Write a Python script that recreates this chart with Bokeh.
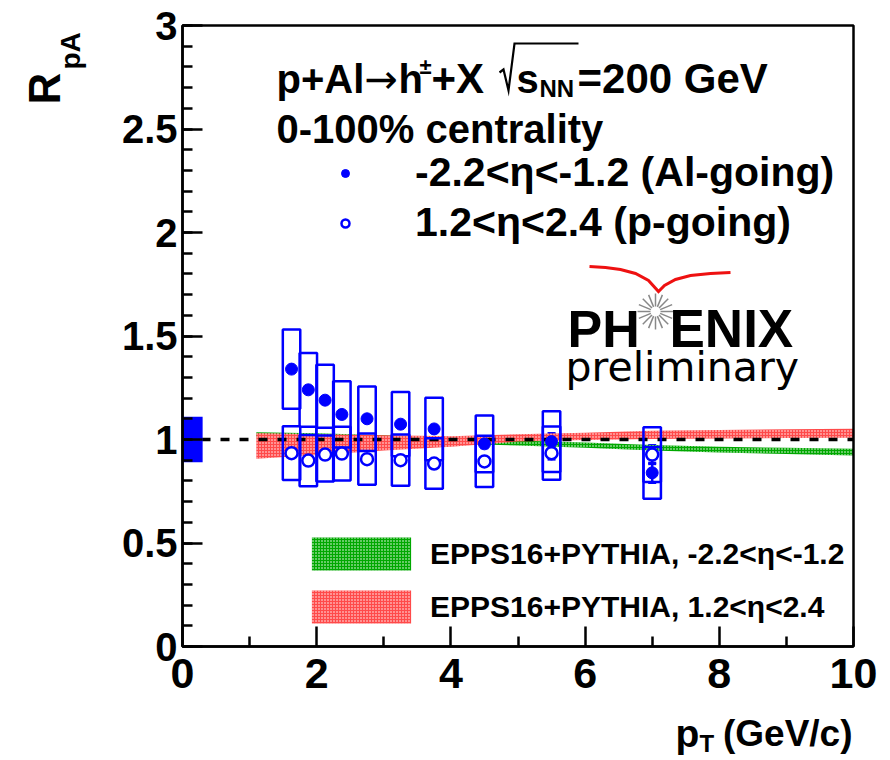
import math
from bokeh.plotting import figure
from bokeh.models import (ColumnDataSource, Label, Legend, LegendItem, FixedTicker,
                          Whisker, TeeHead, Range1d)
from bokeh.embed import file_html
from bokeh.resources import INLINE

# ---------------- data ----------------
pt = [1.625, 1.875, 2.125, 2.375, 2.75, 3.25, 3.75, 4.5, 5.5, 7.0]
r_al = [1.340, 1.240, 1.190, 1.121, 1.100, 1.074, 1.051, 0.979, 0.990, 0.839]
stat_al = [0.010, 0.010, 0.010, 0.010, 0.010, 0.012, 0.015, 0.020, 0.040, 0.048]
syst_al = [0.192, 0.178, 0.171, 0.160, 0.156, 0.155, 0.151, 0.137, 0.147, 0.125]
r_p = [0.934, 0.898, 0.927, 0.932, 0.905, 0.900, 0.884, 0.894, 0.934, 0.927]
stat_p = [0.010, 0.010, 0.010, 0.010, 0.010, 0.012, 0.015, 0.020, 0.030, 0.045]
syst_p = [0.130, 0.124, 0.130, 0.130, 0.124, 0.124, 0.122, 0.124, 0.129, 0.132]
syst_box_width = 0.26
global_unc = 0.11
global_box_width = 0.3

th_pt = [1.1, 2, 3, 4, 5, 6, 7, 8, 9, 10]
epps_al_hi = [1.035, 1.030, 1.020, 1.005, 0.995, 0.985, 0.973, 0.965, 0.960, 0.955]
epps_al_lo = [1.010, 1.005, 0.995, 0.980, 0.971, 0.960, 0.947, 0.937, 0.930, 0.923]
epps_p_hi = [1.030, 1.025, 1.020, 1.016, 1.025, 1.033, 1.042, 1.046, 1.049, 1.052]
epps_p_lo = [0.907, 0.925, 0.947, 0.965, 0.990, 0.997, 1.003, 1.005, 1.007, 1.008]

x_min, x_max = 0, 10
y_min, y_max = 0, 3
x_ticks = [0, 2, 4, 6, 8, 10]
x_minor = [1, 3, 5, 7, 9]
y_ticks = [0, 0.5, 1, 1.5, 2, 2.5, 3]
y_minor = [i / 10 for i in range(31)]
y_tick_labels = ["0", "0.5", "1", "1.5", "2", "2.5", "3"]

BLUE = "#0000ff"
FONT = "Liberation Sans"

# ---------------- layout (pixels of the ROOT-style box) ----------------
W, H = 890, 760
BL, BR, BT, BB = 182, 853, 25, 646
sx = (BR - BL) / (x_max - x_min)
sy = (BB - BT) / (y_max - y_min)

def X(px):
    return x_min + (px - BL) / sx

def Y(py):
    return y_min + (BB - py) / sy

p = figure(width=W, height=H,
           x_range=Range1d(X(0), X(W)), y_range=Range1d(Y(H), Y(0)),
           output_backend="svg", toolbar_location=None,
           min_border_left=0, min_border_right=0, min_border_top=0, min_border_bottom=0)
p.title.visible = False
p.grid.visible = False
p.outline_line_color = None
p.background_fill_color = "white"
p.border_fill_color = "white"

for ax in (p.xaxis[0], p.yaxis[0]):
    ax.axis_line_width = 2.5
    ax.major_tick_line_width = 2.5
    ax.minor_tick_line_width = 2.5
    ax.major_tick_in = 20
    ax.major_tick_out = 0
    ax.minor_tick_in = 10
    ax.minor_tick_out = 0
    ax.major_label_text_font = FONT
    ax.major_label_text_font_style = "bold"
    ax.major_label_text_color = "black"

p.xaxis.fixed_location = y_min
p.yaxis.fixed_location = x_min
p.xaxis.bounds = (x_min, x_max)
p.yaxis.bounds = (y_min, y_max)
p.xaxis.ticker = FixedTicker(ticks=x_ticks, minor_ticks=x_minor)
p.yaxis.ticker = FixedTicker(ticks=y_ticks, minor_ticks=y_minor)
p.yaxis.major_label_overrides = {float(t): l for t, l in zip(y_ticks, y_tick_labels)}
p.xaxis.major_label_text_font_size = "43px"
p.yaxis.major_label_text_font_size = "40px"
p.xaxis.major_label_standoff = 12
p.yaxis.major_label_standoff = 5

# ---------------- theory bands ----------------
green = p.varea(x=th_pt, y1=epps_al_lo, y2=epps_al_hi, fill_color="#00a800",
                fill_alpha=1.0, hatch_pattern="dot", hatch_color="white",
                hatch_scale=3, hatch_weight=2.2)
red = p.varea(x=th_pt, y1=epps_p_lo, y2=epps_p_hi, fill_color="#ff4a4a",
              fill_alpha=1.0, hatch_pattern="dot", hatch_color="white",
              hatch_scale=3, hatch_weight=2.2)

# reference line at unity
p.line(x=[x_min, x_max], y=[1, 1], line_color="black", line_width=3.5, line_dash="9 10")

# global normalisation uncertainty
p.quad(left=[x_min], right=[x_min + global_box_width],
       bottom=[1 - global_unc], top=[1 + global_unc], fill_color=BLUE, line_color=None)

# ---------------- data ----------------
half = syst_box_width / 2
src_al = ColumnDataSource(dict(
    x=pt, y=r_al,
    left=[v - half for v in pt], right=[v + half for v in pt],
    bot=[r - s for r, s in zip(r_al, syst_al)], top=[r + s for r, s in zip(r_al, syst_al)],
    lo=[r - s for r, s in zip(r_al, stat_al)], hi=[r + s for r, s in zip(r_al, stat_al)]))
src_p = ColumnDataSource(dict(
    x=pt, y=r_p,
    left=[v - half for v in pt], right=[v + half for v in pt],
    bot=[r - s for r, s in zip(r_p, syst_p)], top=[r + s for r, s in zip(r_p, syst_p)],
    lo=[r - s for r, s in zip(r_p, stat_p)], hi=[r + s for r, s in zip(r_p, stat_p)]))

for src in (src_al, src_p):
    p.quad(left="left", right="right", bottom="bot", top="top", source=src,
           fill_color=None, line_color=BLUE, line_width=2.5)
    p.add_layout(Whisker(source=src, base="x", lower="lo", upper="hi",
                         line_color=BLUE, line_width=2.5,
                         upper_head=TeeHead(size=8, line_color=BLUE, line_width=2.5),
                         lower_head=TeeHead(size=8, line_color=BLUE, line_width=2.5)))

filled = p.scatter(x="x", y="y", source=src_al, marker="circle", size=12,
                   fill_color=BLUE, line_color=BLUE, line_width=1)
opened = p.scatter(x="x", y="y", source=src_p, marker="circle", size=12,
                   fill_color="white", line_color=BLUE, line_width=2.5)

# box (top and right edges of the frame)
p.quad(left=[x_min], right=[x_max], bottom=[y_min], top=[y_max],
       fill_color=None, line_color="black", line_width=2.5)

# ---------------- legends ----------------
leg_top = Legend(items=[LegendItem(label="-2.2<η<-1.2 (Al-going)", renderers=[filled]),
                        LegendItem(label="1.2<η<2.4 (p-going)", renderers=[opened])],
                 location=(335, 514), orientation="vertical",
                 glyph_width=20, glyph_height=40, label_height=40,
                 label_standoff=60, spacing=3, padding=0, margin=0,
                 border_line_color=None, background_fill_alpha=0.0,
                 label_text_font=FONT, label_text_font_style="bold",
                 label_text_font_size="41px", label_text_color="black")
leg_th = Legend(items=[LegendItem(label="EPPS16+PYTHIA, -2.2<η<-1.2", renderers=[green]),
                       LegendItem(label="EPPS16+PYTHIA, 1.2<η<2.4", renderers=[red])],
                location=(299, 133), orientation="vertical",
                glyph_width=124, glyph_height=41, label_height=41,
                label_standoff=7, spacing=12, padding=0, margin=0,
                border_line_color=None, background_fill_alpha=0.0,
                label_text_font=FONT, label_text_font_style="bold",
                label_text_font_size="30px", label_text_color="black")
p.add_layout(leg_top)
p.add_layout(leg_th)

# ---------------- text ----------------
def lab(px, py, text, size, style="bold", font=FONT, angle=0.0, color="black",
        align="left"):
    p.add_layout(Label(x=X(px), y=Y(py), text=text, text_font=font,
                       text_font_size=f"{size}px", text_font_style=style,
                       text_color=color, angle=angle, text_align=align,
                       text_baseline="alphabetic"))

def poly(pts, color="black", width=2.0):
    p.line(x=[X(a) for a, b in pts], y=[Y(b) for a, b in pts],
           line_color=color, line_width=width, line_join="miter")

# header line 1: p+Al -> h(+-)+X  sqrt(s_NN)=200 GeV
lab(276, 78, "p+Al", 40)
lab(364, 78, "→", 40, style="normal", font="DejaVu Sans")
lab(398, 78, "h", 40)
lab(419, 66, "±", 22)
lab(431, 78, "+X", 42)
poly([(499, 72), (503, 69), (508, 90), (514, 43), (578, 43)], width=2.2)
lab(516, 78, "s", 40)
lab(539, 88, "NN", 24)
lab(577, 78, "=200 GeV", 42)
# header line 2
lab(276, 128, "0-100% centrality", 40)

# axis titles
lab(44, 104, "R", 44, angle=math.pi / 2)
lab(70, 69, "pA", 28, angle=math.pi / 2)
lab(852, 733, "(GeV/c)", 37, align="right")
lab(699, 743, "T", 24)
lab(675, 733, "p", 39)

# PHENIX logo
lab(567, 328, "PH", 52)
lab(669, 328, "ENIX", 53)
cx, cy = 655, 311
xs0, ys0, xs1, ys1 = [], [], [], []
for k in range(16):
    a = 2 * math.pi * k / 16
    xs0.append(X(cx + 5 * math.cos(a))); ys0.append(Y(cy + 5 * math.sin(a)))
    xs1.append(X(cx + 18 * math.cos(a))); ys1.append(Y(cy + 18 * math.sin(a)))
p.segment(x0=xs0, y0=ys0, x1=xs1, y1=ys1, line_color="#888888", line_width=1.5)
poly([(589, 266), (605, 267), (620, 269), (635, 273), (648, 280), (658, 291),
      (664, 285), (675, 279), (690, 275), (710, 273), (730, 272)],
     color="#ee1111", width=3)
lab(565, 366, "preliminary", 41, style="normal", font="DejaVu Sans")

open("out.html", "w").write(file_html(p, INLINE))
